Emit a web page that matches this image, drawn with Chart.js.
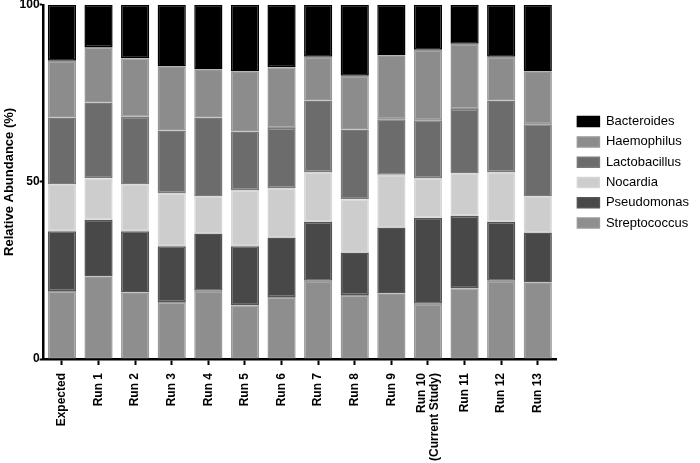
<!DOCTYPE html>
<html>
<head>
<meta charset="utf-8">
<script src="https://cdn.jsdelivr.net/npm/chart.js@4.4.1/dist/chart.umd.min.js"></script>
<style>
  body { margin: 0; background: #fff; }
  #wrap { width: 700px; height: 463px; }
</style>
</head>
<body>
<div id="wrap"><canvas id="abundance" width="700" height="463"></canvas></div>
<script>
// samples along the x-axis
var samples = ["Expected", "Run 1", "Run 2", "Run 3", "Run 4", "Run 5", "Run 6", "Run 7", "Run 8", "Run 9",
  ["Run 10", "(Current Study)"], "Run 11", "Run 12", "Run 13"];
// relative abundance (%) per genus, bottom of the stack first
var streptococcus = [19.2, 23.3, 18.8, 16.1, 19.3, 15.2, 17.5, 22.1, 18.1, 18.5, 15.6, 20.0, 22.1, 21.6];
var pseudomonas   = [16.9, 16.0, 17.3, 15.7, 16.1, 16.6, 16.8, 16.6, 12.0, 18.6, 24.3, 20.4, 16.6, 14.1];
var nocardia      = [13.2, 11.7, 13.2, 15.1, 10.5, 15.9, 14.0, 14.1, 15.0, 14.9, 11.2, 12.0, 14.1, 10.2];
var lactobacillus = [18.9, 21.4, 19.1, 17.6, 22.3, 16.5, 16.9, 20.2, 19.7, 15.7, 16.3, 18.2, 20.2, 20.4];
var haemophilus   = [16.0, 15.7, 16.5, 18.1, 13.5, 17.0, 17.2, 12.3, 15.2, 18.0, 19.9, 18.4, 12.3, 14.9];
var bacteroides   = [15.8, 11.9, 15.1, 17.4, 18.3, 18.8, 17.6, 14.7, 20.0, 14.3, 12.7, 11.0, 14.7, 18.8];
// y-axis ticks
var yTicks = [0, 50, 100];

Chart.defaults.font.family = "'Liberation Sans', Arial, sans-serif";
Chart.defaults.color = "#000";

// rotated two-line labels: centre both lines on the tick instead of starting at it
var centerMultiline = {
  id: 'centerMultiline',
  beforeDraw: function (chart) {
    chart.scales.x.getLabelItems().forEach(function (item) {
      if (Array.isArray(item.label) && !item._moved) {
        item.options.translation[0] -= (item.label.length - 1) * item.font.lineHeight / 2;
        item._moved = true;
      }
    });
  }
};

// leave a little white space between the plot and the legend
var legendGap = {
  id: 'legendGap',
  afterLayout: function (chart) {
    chart.legend.left += 14;
    chart.legend.right += 14;
  }
};

var ctx = document.getElementById("abundance");
var abundance = new Chart(ctx, {
  type: 'bar',
  data: {
    labels: samples,
    datasets: [
      { label: "Streptococcus", data: streptococcus, backgroundColor: "#8e8e8e", borderColor: "#999999" },
      { label: "Pseudomonas",   data: pseudomonas,   backgroundColor: "#484848", borderColor: "#555555" },
      { label: "Nocardia",      data: nocardia,      backgroundColor: "#cdcdcd", borderColor: "#d6d6d6" },
      { label: "Lactobacillus", data: lactobacillus, backgroundColor: "#6c6c6c", borderColor: "#7a7a7a" },
      { label: "Haemophilus",   data: haemophilus,   backgroundColor: "#8c8c8c", borderColor: "#979797" },
      { label: "Bacteroides",   data: bacteroides,   backgroundColor: "#000000", borderColor: "#000000" }
    ]
  },
  plugins: [centerMultiline, legendGap],
  options: {
    responsive: false,
    animation: false,
    layout: { padding: { top: 0, bottom: -6, left: 0, right: 15 } },
    datasets: { bar: { borderWidth: 1.5, borderSkipped: false, categoryPercentage: 1, barPercentage: 0.77 } },
    plugins: {
      tooltip: { enabled: false },
      legend: {
        position: 'right',
        fullSize: false,
        align: 'start',
        reverse: true,
        title: { display: true, text: ' ', font: { size: 10, lineHeight: 1 }, padding: { top: 93, bottom: 0 } },
        labels: { boxWidth: 22, boxHeight: 10, padding: 7.3, font: { size: 13 }, color: "#000" }
      }
    },
    scales: {
      x: {
        stacked: true,
        grid: { offset: false, drawOnChartArea: false, tickLength: 6, tickWidth: 2, tickColor: "#000" },
        border: { color: "#000", width: 2.5 },
        ticks: { maxRotation: 90, minRotation: 90, padding: 8, font: { size: 12, weight: 'bold', lineHeight: 1.05 }, color: "#000" }
      },
      y: {
        stacked: true,
        min: 0,
        max: 100,
        afterBuildTicks: function (axis) { axis.ticks = yTicks.map(function (v) { return { value: v }; }); },
        grid: { drawOnChartArea: false, tickLength: 4, tickWidth: 2, tickColor: "#000" },
        border: { color: "#000", width: 2.5 },
        ticks: { padding: 0, font: { size: 12, weight: 'bold', lineHeight: 0.8 }, color: "#000" },
        title: { display: true, text: "Relative Abundance (%)", font: { size: 13, weight: 'bold' }, color: "#000", padding: 2 }
      }
    }
  }
});
</script>
</body>
</html>
